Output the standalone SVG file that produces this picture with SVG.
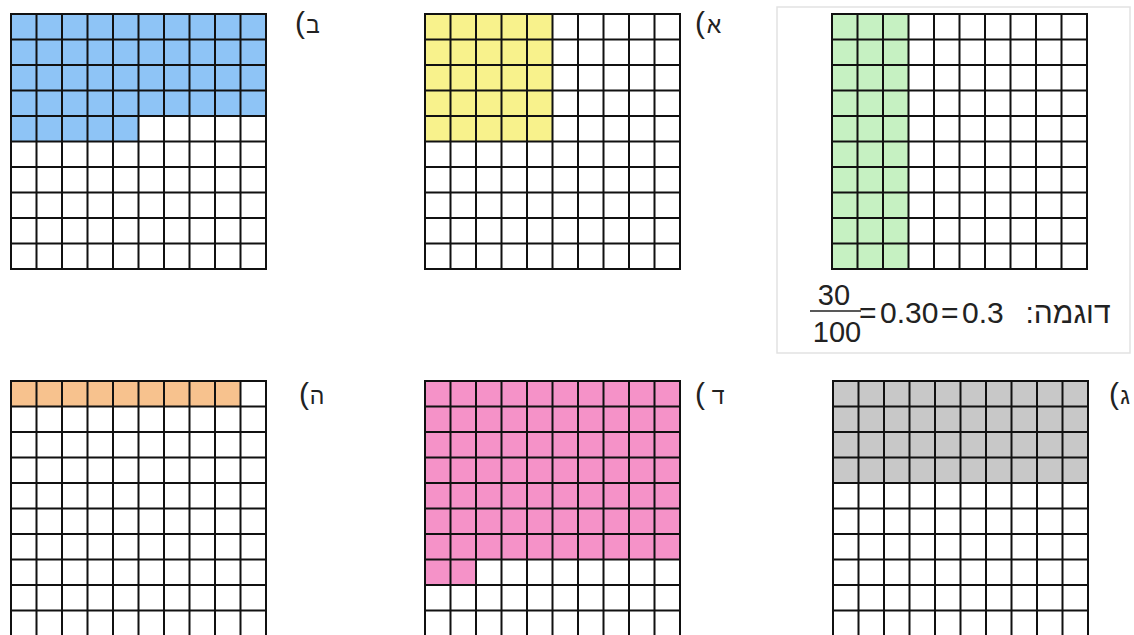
<svg xmlns="http://www.w3.org/2000/svg" xmlns:xlink="http://www.w3.org/1999/xlink" width="1134" height="635" viewBox="0 0 1134 635">
  <style>
    .grid { fill: none; stroke: #111; stroke-width: 2; stroke-linecap: square; }
    .lbl { font-family: "Liberation Sans", "DejaVu Sans", sans-serif; font-size: 23px; fill: #222; text-anchor: middle; }
    .par { font-family: "Liberation Sans", "DejaVu Sans", sans-serif; font-size: 30px; fill: #222; }
    .num { font-family: "Liberation Sans", "DejaVu Sans", sans-serif; fill: #222; }
    .blue { fill: #8ec4f6; }
    .yellow { fill: #f8f28c; }
    .green { fill: #c6f1c2; }
    .orange { fill: #f7c28e; }
    .pink { fill: #f592c8; }
    .gray { fill: #c8c8c8; }
  </style>
  <defs>
    <path id="g10" class="grid" d="M0 0H255M0 25.5H255M0 51H255M0 76.5H255M0 102H255M0 127.5H255M0 153H255M0 178.5H255M0 204H255M0 229.5H255M0 255H255M0 0V255M25.5 0V255M51 0V255M76.5 0V255M102 0V255M127.5 0V255M153 0V255M178.5 0V255M204 0V255M229.5 0V255M255 0V255"/>
  </defs>
  <rect width="1134" height="635" fill="#fff"/>

  <g id="example">
    <rect x="777" y="7" width="353" height="346" fill="none" stroke="#e2e2e2" stroke-width="1.5"/>
    <rect class="green" x="832" y="14" width="76.5" height="255"/>
    <use xlink:href="#g10" href="#g10" x="832" y="14"/>
    <text class="num" x="834" y="305" font-size="29" text-anchor="middle">30</text>
    <line x1="810" y1="311" x2="861" y2="311" stroke="#222" stroke-width="1.6"/>
    <text class="num" x="837" y="342" font-size="29" text-anchor="middle">100</text>
    <text class="num" x="859" y="323" font-size="30">=</text>
    <text class="num" x="880" y="323" font-size="30">0.30</text>
    <text class="num" x="941" y="323" font-size="30">=</text>
    <text class="num" x="962" y="323" font-size="30">0.3</text>
    <text class="num" x="1068" y="323" font-size="30" direction="rtl" unicode-bidi="embed" text-anchor="middle">דוגמה:</text>
  </g>

  <g id="grid-alef">
    <rect class="yellow" x="425" y="14" width="127.5" height="127.5"/>
    <use xlink:href="#g10" href="#g10" x="425" y="14"/>
    <text class="par" x="695" y="33">(</text>
    <text class="lbl" x="714" y="33">א</text>
  </g>

  <g id="grid-bet">
    <rect class="blue" x="11" y="14" width="255" height="102"/>
    <rect class="blue" x="11" y="116" width="127.5" height="25.5"/>
    <use xlink:href="#g10" href="#g10" x="11" y="14"/>
    <text class="par" x="295" y="33">(</text>
    <text class="lbl" x="313" y="33">ב</text>
  </g>

  <g id="grid-gimel">
    <rect class="gray" x="833" y="381" width="255" height="102"/>
    <use xlink:href="#g10" href="#g10" x="833" y="381"/>
    <text class="par" x="1109" y="404">(</text>
    <text class="lbl" x="1125" y="404">ג</text>
  </g>

  <g id="grid-dalet">
    <rect class="pink" x="425" y="381" width="255" height="178.5"/>
    <rect class="pink" x="425" y="559.5" width="51" height="25.5"/>
    <use xlink:href="#g10" href="#g10" x="425" y="381"/>
    <text class="par" x="695" y="404">(</text>
    <text class="lbl" x="718" y="404">ד</text>
  </g>

  <g id="grid-he">
    <rect class="orange" x="11" y="381" width="229.5" height="25.5"/>
    <use xlink:href="#g10" href="#g10" x="11" y="381"/>
    <text class="par" x="299" y="404">(</text>
    <text class="lbl" x="317" y="404">ה</text>
  </g>
</svg>
